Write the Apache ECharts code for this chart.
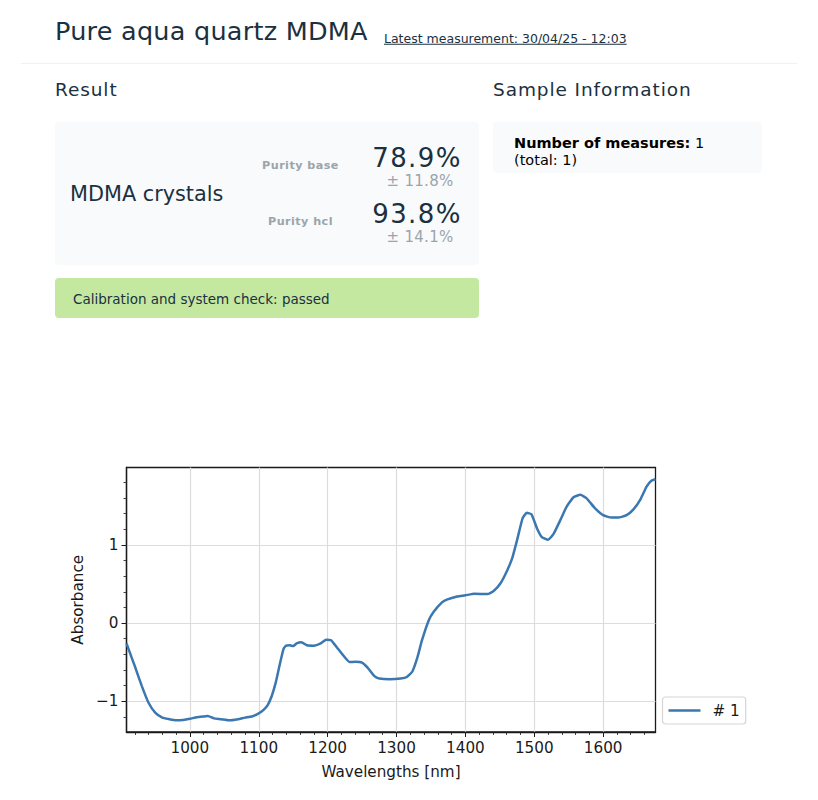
<!DOCTYPE html>
<html><head><meta charset="utf-8">
<script src="https://cdn.jsdelivr.net/npm/echarts@6/dist/echarts.min.js"></script>
<style>
html,body{margin:0;padding:0;background:#fff;width:818px;height:800px;overflow:hidden;font-family:"DejaVu Sans",sans-serif;color:#1b3040}
.t{position:absolute;white-space:nowrap;line-height:1;transform:translateY(-50%)}
.c{transform:translate(-50%,-50%)}
.b{position:absolute}
#chart{position:absolute;left:0;top:0;width:818px;height:800px}
</style></head><body>
<div id="chart"></div>
<div class="t" style="left:55px;top:32px;font-size:25.5px;letter-spacing:.25px">Pure aqua quartz MDMA</div>
<div class="t" style="left:384px;top:39px;font-size:12.5px;text-decoration:underline">Latest measurement: 30/04/25 - 12:03</div>
<div class="b" style="left:21px;top:63px;width:776px;height:1px;background:#eef2f4"></div>
<div class="t" style="left:55px;top:90px;font-size:18.5px;letter-spacing:.9px">Result</div>
<div class="t" style="left:493px;top:90px;font-size:18.5px;letter-spacing:.9px">Sample Information</div>
<div class="b" style="left:55px;top:122px;width:424px;height:143px;background:#f9fafc;border-radius:4px"></div>
<div class="t" style="left:70px;top:194px;font-size:20.8px">MDMA crystals</div>
<div class="t c" style="left:300.5px;top:166px;font-size:11.2px;font-weight:bold;color:#9aa5ab;letter-spacing:.45px">Purity base</div>
<div class="t c" style="left:417px;top:157.5px;font-size:26px;letter-spacing:1.4px">78.9%</div>
<div class="t c" style="left:420px;top:180.5px;font-size:15px;letter-spacing:.3px;color:#9aa5ab">± 11.8%</div>
<div class="t c" style="left:300.5px;top:222px;font-size:11.2px;font-weight:bold;color:#9aa5ab;letter-spacing:.45px">Purity hcl</div>
<div class="t c" style="left:417px;top:213.5px;font-size:26px;letter-spacing:1.4px">93.8%</div>
<div class="t c" style="left:420px;top:236.5px;font-size:15px;letter-spacing:.3px;color:#9aa5ab">± 14.1%</div>
<div class="b" style="left:55px;top:278px;width:424px;height:40px;background:#c4e8a0;border-radius:4px"></div>
<div class="t" style="left:73px;top:300px;font-size:13.5px">Calibration and system check: passed</div>
<div class="b" style="left:493px;top:122px;width:269px;height:51px;background:#f9fafc;border-radius:4px"></div>
<div class="t" style="left:514px;top:143px;font-size:14.5px;color:#000"><b>Number of measures:</b> 1</div>
<div class="t" style="left:514px;top:160px;font-size:14.5px;color:#000">(total: 1)</div>
<script>
const wavelengths=[908,915,920,930,940,950,960,970,980,990,1000,1010,1020,1026,1035,1045,1057,1070,1080,1090,1100,1107,1113,1119,1125,1130,1136,1140,1145,1150,1155,1162,1170,1180,1190,1198,1205,1215,1225,1232,1240,1250,1258,1268,1275,1290,1306,1315,1323,1330,1337,1347,1354,1366,1373,1388,1400,1413,1432,1441,1451,1460,1468,1475,1483,1489,1496,1504,1511,1520,1528,1538,1547,1557,1567,1576,1588,1600,1612,1622,1634,1644,1654,1663,1670,1676];
const absorbance=[-0.26,-0.43,-0.55,-0.80,-1.02,-1.15,-1.21,-1.23,-1.245,-1.24,-1.225,-1.205,-1.195,-1.19,-1.22,-1.23,-1.245,-1.23,-1.21,-1.195,-1.155,-1.11,-1.05,-0.93,-0.75,-0.55,-0.33,-0.29,-0.285,-0.295,-0.26,-0.245,-0.285,-0.29,-0.26,-0.215,-0.22,-0.33,-0.44,-0.50,-0.495,-0.505,-0.57,-0.68,-0.71,-0.72,-0.71,-0.69,-0.62,-0.45,-0.22,0.04,0.145,0.265,0.30,0.34,0.355,0.375,0.37,0.41,0.51,0.66,0.83,1.06,1.34,1.41,1.39,1.21,1.10,1.065,1.14,1.32,1.49,1.61,1.64,1.595,1.47,1.38,1.35,1.35,1.38,1.455,1.58,1.745,1.82,1.84];
const xMajor=[1000,1100,1200,1300,1400,1500,1600];
const xMinor=[920,940,960,980,1020,1040,1060,1080,1120,1140,1160,1180,1220,1240,1260,1280,1320,1340,1360,1380,1420,1440,1460,1480,1520,1540,1560,1580,1620,1640,1660];
const yMajor=[-1,0,1];
const yMinor=[-1.2,-0.8,-0.6,-0.4,-0.2,0.2,0.4,0.6,0.8,1.2,1.4,1.6,1.8];
const xRange=[908,1676], yRange=[-1.394,1.99];
const seriesName='# 1';
const ink='#1a1a1a', tick={color:ink,width:1};
const fs=15.2;
const fmt=v=>String(v).replace('-','\u2212');
const lab={color:ink,fontSize:fs,fontFamily:'DejaVu Sans',margin:8};
const chart=echarts.init(document.getElementById('chart'),null,{renderer:'svg'});
chart.setOption({
 animation:false,
 grid:{left:126.5,top:467.5,width:529,height:264.5,show:true,borderColor:ink,borderWidth:1.3,backgroundColor:'transparent'},
 legend:{left:662.5,top:697,orient:'vertical',padding:[6,6,6,6],itemWidth:32,itemHeight:2.4,itemGap:0,borderColor:'#d5d5d5',borderWidth:1.2,borderRadius:3,
  data:[{name:seriesName,icon:'rect'}],textStyle:{color:ink,fontSize:fs,fontFamily:'DejaVu Sans',padding:[0,1,0,7]}},
 xAxis:[
  {type:'value',position:'bottom',min:xRange[0],max:xRange[1],name:'Wavelengths [nm]',nameLocation:'middle',nameGap:32,
   nameTextStyle:{color:ink,fontSize:fs,fontFamily:'DejaVu Sans'},
   axisLine:{show:true,onZero:false,lineStyle:{color:ink,width:1.3}},
   axisTick:{show:true,length:5,lineStyle:tick,customValues:xMajor},
   axisLabel:{...lab,customValues:xMajor,formatter:fmt},
   splitLine:{show:true,lineStyle:{color:'#dcdcdc',width:1.2}}},
  {type:'value',position:'bottom',min:xRange[0],max:xRange[1],
   axisLine:{show:false,onZero:false},
   axisTick:{show:true,length:3,lineStyle:{color:ink,width:.8},customValues:xMinor},
   axisLabel:{show:false},splitLine:{show:false}}
 ],
 yAxis:[
  {type:'value',position:'left',min:yRange[0],max:yRange[1],name:'Absorbance',nameLocation:'middle',nameGap:41,
   nameTextStyle:{color:ink,fontSize:fs,fontFamily:'DejaVu Sans'},
   axisLine:{show:true,onZero:false,lineStyle:{color:ink,width:1.3}},
   axisTick:{show:true,length:5,lineStyle:tick,customValues:yMajor},
   axisLabel:{...lab,customValues:yMajor,formatter:fmt},
   splitLine:{show:true,lineStyle:{color:'#dcdcdc',width:1.2}}},
  {type:'value',position:'left',min:yRange[0],max:yRange[1],
   axisLine:{show:false,onZero:false},
   axisTick:{show:true,length:3,lineStyle:{color:ink,width:.8},customValues:yMinor},
   axisLabel:{show:false},splitLine:{show:false}}
 ],
 series:[{name:seriesName,type:'line',showSymbol:false,smooth:0.15,xAxisIndex:0,yAxisIndex:0,clip:true,
  lineStyle:{color:'#3b77b0',width:2.5},itemStyle:{color:'#3b77b0'},
  data:wavelengths.map((w,i)=>[w,absorbance[i]])}]
});
</script>
</body></html>
